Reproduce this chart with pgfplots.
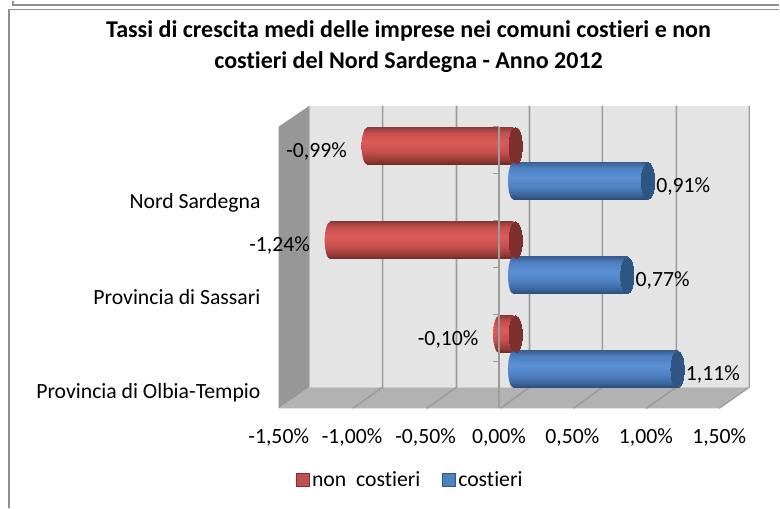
\documentclass[border=0pt]{standalone}
\usepackage{pgfplots}
\usepackage{pgfplotstable}
\usepackage{fontspec}
\setmainfont[Ligatures=NoCommon]{Carlito}
\pgfplotsset{compat=1.18}

% reference pixels are used as units: 1 px = 0.75pt
\newlength{\px}\setlength{\px}{0.75pt}

\definecolor{wallback}{HTML}{E4E4E4}
\definecolor{wallside}{HTML}{979797}
\definecolor{wallfloor}{HTML}{B2B2B2}
\definecolor{gridc}{HTML}{9C9C9C}
\definecolor{framec}{HTML}{8F8F8F}
\definecolor{redcap}{HTML}{7E302E}
\definecolor{bluecap}{HTML}{2F5585}
\definecolor{redleg}{HTML}{C0504D}
\definecolor{blueleg}{HTML}{4F81BD}

\definecolor{ra}{rgb}{0.42,0.16,0.15}
\definecolor{rb}{rgb}{0.58,0.23,0.22}
\definecolor{rc}{rgb}{0.78,0.31,0.30}
\definecolor{rd}{rgb}{0.86,0.36,0.35}
\definecolor{re}{rgb}{0.55,0.24,0.23}
\definecolor{ba}{rgb}{0.17,0.29,0.46}
\definecolor{bb}{rgb}{0.23,0.39,0.60}
\definecolor{bc}{rgb}{0.31,0.50,0.76}
\definecolor{bd}{rgb}{0.36,0.57,0.84}
\definecolor{be}{rgb}{0.23,0.38,0.58}

% the central 25--75bp of a shading is what fits the path
\pgfdeclareverticalshading{redcyl}{100bp}{
  color(0bp)=(ra); color(25bp)=(ra); color(31bp)=(rb); color(42bp)=(rc);
  color(55bp)=(rd); color(68bp)=(rc); color(75bp)=(re); color(100bp)=(re)}
\pgfdeclareverticalshading{bluecyl}{100bp}{
  color(0bp)=(ba); color(25bp)=(ba); color(31bp)=(bb); color(42bp)=(bc);
  color(55bp)=(bd); color(68bp)=(bc); color(75bp)=(be); color(100bp)=(be)}

% rounded far end of a cylinder, shaded like the bar itself
\pgfdeclareplotmark{redend}{%
  \pgfpathellipse{\pgfpointorigin}{\pgfqpoint{5.5\px}{0pt}}{\pgfqpoint{0pt}{18.5\px}}%
  \pgfshadepath{redcyl}{0}\pgfusepath{discard}}
\pgfdeclareplotmark{blueend}{%
  \pgfpathellipse{\pgfpointorigin}{\pgfqpoint{5.5\px}{0pt}}{\pgfqpoint{0pt}{18.5\px}}%
  \pgfshadepath{bluecyl}{0}\pgfusepath{discard}}

% x: percent, y: pixel row of the bar centre
\pgfplotstableread{
v y lab
-0.99 145.5 -0,99
-1.24 240 -1,24
-0.10 334 -0,10
}\noncostieri
\pgfplotstableread{
v y lab
0.91 180.5 0,91
0.77 275 0,77
1.11 369 1,11
}\costieri
% bases of the cylinders, a little apart because of the 3-D view
\pgfplotstableread{
v y
0.015 145.5
0.015 240
0.015 334
}\redzero
\pgfplotstableread{
v y
0 180.5
0 275
0 369
}\bluezero

\begin{document}
\begin{tikzpicture}[x=\px,y=\px]
  \path (0,0) rectangle (780,508);
  % --- page and chart frame, walls, grid and text: pixel axis
  \begin{axis}[
      at={(0,0)}, anchor=south west,
      scale only axis, width=780\px, height=508\px,
      xmin=0, xmax=780, ymin=0, ymax=508, y dir=reverse,
      axis lines=none, clip=false,
    ]
    \draw[framec,line width=1.4\px] (axis cs:13,0) -- (axis cs:13,4.5) -- (axis cs:780,4.5);
    \draw[framec,line width=1.6\px] (axis cs:9,508) -- (axis cs:9,9) -- (axis cs:780,9);

    \fill[wallback] (axis cs:310,105) rectangle (axis cs:750,387);
    \fill[wallside] (axis cs:279,126) -- (axis cs:310,105) -- (axis cs:310,387) -- (axis cs:279,408) -- cycle;
    \fill[wallfloor] (axis cs:279,408) -- (axis cs:310,387) -- (axis cs:750,387) -- (axis cs:720,408) -- cycle;
    \foreach \b/\f in {383/353,457/427,530/501,603/574,677/647}{
      \edef\tmp{\noexpand\draw[gridc,line width=1.6\px] (axis cs:\f,408) -- (axis cs:\b,387) -- (axis cs:\b,105);}
      \tmp
    }
    \draw[gridc,line width=1.2\px] (axis cs:720,408) -- (axis cs:750,387) -- (axis cs:750,105);

    \node[font=\fontsize{18.05}{23.2}\selectfont\bfseries,align=center,anchor=center]
      at (axis cs:409,46) {Tassi di crescita medi delle imprese nei comuni costieri e non\\costieri del Nord Sardegna - Anno 2012};
    \node[font=\fontsize{16.3}{19}\selectfont,anchor=east,inner sep=0pt] at (axis cs:261,202) {Nord Sardegna};
    \node[font=\fontsize{16.3}{19}\selectfont,anchor=east,inner sep=0pt] at (axis cs:261,297) {Provincia di Sassari};
    \node[font=\fontsize{16.3}{19}\selectfont,anchor=east,inner sep=0pt] at (axis cs:261,392) {Provincia di Olbia-Tempio};
  \end{axis}

  % --- cylinders: 148 px per percentage point, zero at pixel column 514
  \begin{axis}[
      at={(0,0)}, anchor=south west,
      scale only axis, width=780\px, height=508\px,
      xmin=-3.47297, xmax=1.79730, ymin=0, ymax=508, y dir=reverse,
      axis lines=none, clip=false,
      legend columns=2,
      legend style={at={(axis cs:-0.696,480)},anchor=center,draw=none,fill=none,
        font=\fontsize{16.3}{19}\selectfont,
        /tikz/every even column/.append style={column sep=19\px},
        inner sep=0pt},
      legend image code/.code={
        \draw[#1] (0pt,-4.9pt) rectangle (9.75pt,4.9pt);},
      redbar/.style={forget plot,xbar,bar width=37\px,bar shift=0pt,draw=none,shade,shading=redcyl},
      bluebar/.style={forget plot,xbar,bar width=37\px,bar shift=0pt,draw=none,shade,shading=bluecyl},
    ]
    % one plot per bar: the shading of a bar must fit that bar alone
    \addplot[forget plot,only marks,mark=redend] table[x=v,y=y] {\noncostieri};
    \addplot[redbar] coordinates {(-0.99,145.5)};
    \addplot[redbar] coordinates {(-1.24,240)};
    \addplot[redbar] coordinates {(-0.10,334)};
    \addplot[forget plot,only marks,mark=*,mark size=18.5\px,
        mark options={xscale=0.36,fill=redcap,draw=redcap,line width=0pt}] table[x=v,y=y] {\redzero};
    \addplot[forget plot,only marks,mark=none,
        point meta=explicit symbolic,
        nodes near coords={\pgfplotspointmeta\%},
        every node near coord/.append style={anchor=east,xshift=-20\px,yshift=-5.5\px,
          font=\fontsize{16.3}{19}\selectfont,text=black,inner sep=0pt}]
        table[x=v,y=y,meta=lab] {\noncostieri};

    \addplot[forget plot,only marks,mark=blueend] table[x=v,y=y] {\bluezero};
    \addplot[bluebar] coordinates {(0.91,180.5)};
    \addplot[bluebar] coordinates {(0.77,275)};
    \addplot[bluebar] coordinates {(1.11,369)};
    \addplot[forget plot,only marks,mark=*,mark size=18.5\px,
        mark options={xscale=0.36,fill=bluecap,draw=bluecap,line width=0pt}] table[x=v,y=y] {\costieri};
    \addplot[forget plot,only marks,mark=none,
        point meta=explicit symbolic,
        nodes near coords={\pgfplotspointmeta\%},
        every node near coord/.append style={anchor=west,xshift=8\px,yshift=-5.5\px,
          font=\fontsize{16.3}{19}\selectfont,text=black,inner sep=0pt}]
        table[x=v,y=y,meta=lab] {\costieri};

    \addlegendimage{fill=redleg,draw=redcap}
    \addlegendentry{non\ \ costieri}
    \addlegendimage{fill=blueleg,draw=bluecap}
    \addlegendentry{costieri}
  \end{axis}

  % --- front plane: value axis labels and the category axis at zero
  \begin{axis}[
      at={(279\px,100\px)}, anchor=south west,
      scale only axis, width=441\px, height=282\px,
      xmin=-1.5, xmax=1.5, ymin=0, ymax=6,
      axis x line=bottom, axis y line=middle,
      x axis line style={draw=none}, y axis line style={gridc,line width=1.6\px,-},
      xtick={-1.5,-1,-0.5,0,0.5,1,1.5},
      xticklabels={{-1,50\%},{-1,00\%},{-0,50\%},{0,00\%},{0,50\%},{1,00\%},{1,50\%}},
      x tick label style={font=\fontsize{16.3}{19}\selectfont,yshift=-14\px,inner sep=0pt},
      xtick style={draw=none},
      ytick={0,...,6}, yticklabels={},
      y tick style={gridc,line width=1.3\px},
      tick align=outside, major tick length=6\px,
    ]
    \addplot[draw=none,forget plot] coordinates {(0,0) (0,6)};
  \end{axis}
\end{tikzpicture}
\end{document}
